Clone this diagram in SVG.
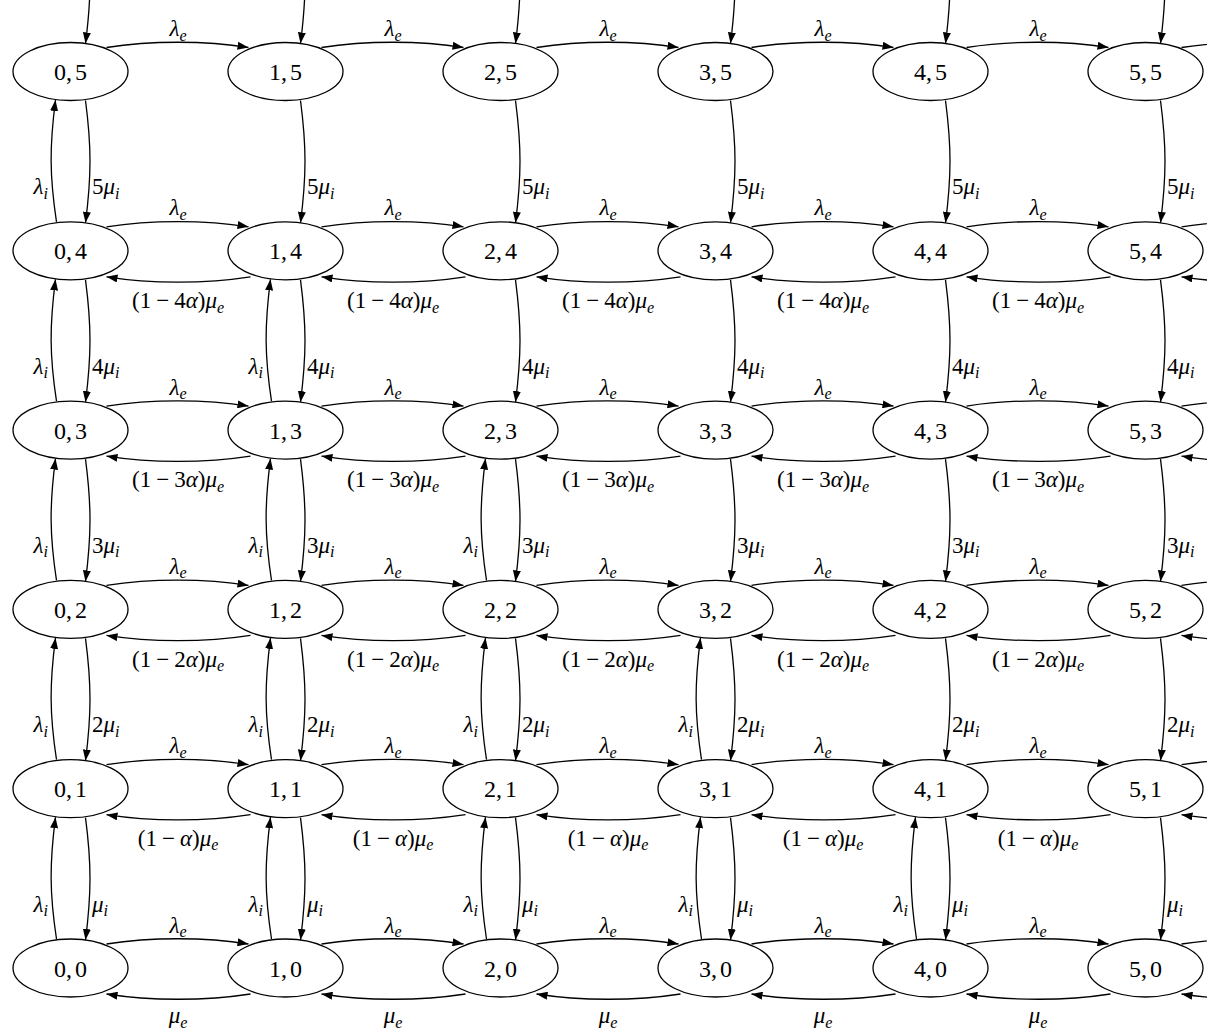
<svg xmlns="http://www.w3.org/2000/svg" width="1207" height="1031" viewBox="0 0 1207 1031">
<defs>
<marker id="ah" viewBox="0 0 11 8" refX="11" refY="4" markerWidth="11" markerHeight="8" orient="auto" markerUnits="userSpaceOnUse"><path d="M0,0 L11,4 L0,8 z" fill="#000"/></marker>
<style>
.nd ellipse{fill:#fff;stroke:#000;stroke-width:1.3}
.nl{font-family:"Liberation Serif","Times New Roman",serif;font-size:24px;text-anchor:middle;fill:#000}
.cn path{fill:none;stroke:#000;stroke-width:1.3;marker-end:url(#ah)}
.el{font-family:"Liberation Serif","Times New Roman",serif;font-size:23px;fill:#000}
.m{text-anchor:middle}
.e{text-anchor:end}
.i{font-style:italic}
.s{font-size:16px;font-style:italic}
</style>
</defs>
<rect width="1207" height="1031" fill="#fff"/>
<g id="connectors" class="cn">
<path transform="translate(70.5,71.5)" d="M36,-24 C80,-31 135,-31 178,-24"/>
<path transform="translate(285.5,71.5)" d="M36,-24 C80,-31 135,-31 178,-24"/>
<path transform="translate(500.5,71.5)" d="M36,-24 C80,-31 135,-31 178,-24"/>
<path transform="translate(715.5,71.5)" d="M36,-24 C80,-31 135,-31 178,-24"/>
<path transform="translate(930.5,71.5)" d="M36,-24 C80,-31 135,-31 178,-24"/>
<path transform="translate(1145.5,71.5)" d="M36,-24 C80,-31 135,-31 178,-24"/>
<path transform="translate(70.5,250.8)" d="M36,-24 C80,-31 135,-31 178,-24"/>
<path transform="translate(285.5,250.8)" d="M36,-24 C80,-31 135,-31 178,-24"/>
<path transform="translate(500.5,250.8)" d="M36,-24 C80,-31 135,-31 178,-24"/>
<path transform="translate(715.5,250.8)" d="M36,-24 C80,-31 135,-31 178,-24"/>
<path transform="translate(930.5,250.8)" d="M36,-24 C80,-31 135,-31 178,-24"/>
<path transform="translate(1145.5,250.8)" d="M36,-24 C80,-31 135,-31 178,-24"/>
<path transform="translate(70.5,430.1)" d="M36,-24 C80,-31 135,-31 178,-24"/>
<path transform="translate(285.5,430.1)" d="M36,-24 C80,-31 135,-31 178,-24"/>
<path transform="translate(500.5,430.1)" d="M36,-24 C80,-31 135,-31 178,-24"/>
<path transform="translate(715.5,430.1)" d="M36,-24 C80,-31 135,-31 178,-24"/>
<path transform="translate(930.5,430.1)" d="M36,-24 C80,-31 135,-31 178,-24"/>
<path transform="translate(1145.5,430.1)" d="M36,-24 C80,-31 135,-31 178,-24"/>
<path transform="translate(70.5,609.4)" d="M36,-24 C80,-31 135,-31 178,-24"/>
<path transform="translate(285.5,609.4)" d="M36,-24 C80,-31 135,-31 178,-24"/>
<path transform="translate(500.5,609.4)" d="M36,-24 C80,-31 135,-31 178,-24"/>
<path transform="translate(715.5,609.4)" d="M36,-24 C80,-31 135,-31 178,-24"/>
<path transform="translate(930.5,609.4)" d="M36,-24 C80,-31 135,-31 178,-24"/>
<path transform="translate(1145.5,609.4)" d="M36,-24 C80,-31 135,-31 178,-24"/>
<path transform="translate(70.5,788.7)" d="M36,-24 C80,-31 135,-31 178,-24"/>
<path transform="translate(285.5,788.7)" d="M36,-24 C80,-31 135,-31 178,-24"/>
<path transform="translate(500.5,788.7)" d="M36,-24 C80,-31 135,-31 178,-24"/>
<path transform="translate(715.5,788.7)" d="M36,-24 C80,-31 135,-31 178,-24"/>
<path transform="translate(930.5,788.7)" d="M36,-24 C80,-31 135,-31 178,-24"/>
<path transform="translate(1145.5,788.7)" d="M36,-24 C80,-31 135,-31 178,-24"/>
<path transform="translate(70.5,968)" d="M36,-24 C80,-31 135,-31 178,-24"/>
<path transform="translate(285.5,968)" d="M36,-24 C80,-31 135,-31 178,-24"/>
<path transform="translate(500.5,968)" d="M36,-24 C80,-31 135,-31 178,-24"/>
<path transform="translate(715.5,968)" d="M36,-24 C80,-31 135,-31 178,-24"/>
<path transform="translate(930.5,968)" d="M36,-24 C80,-31 135,-31 178,-24"/>
<path transform="translate(1145.5,968)" d="M36,-24 C80,-31 135,-31 178,-24"/>
<path transform="translate(70.5,250.8)" d="M180,26 C135,33 80,33 36,26"/>
<path transform="translate(285.5,250.8)" d="M180,26 C135,33 80,33 36,26"/>
<path transform="translate(500.5,250.8)" d="M180,26 C135,33 80,33 36,26"/>
<path transform="translate(715.5,250.8)" d="M180,26 C135,33 80,33 36,26"/>
<path transform="translate(930.5,250.8)" d="M180,26 C135,33 80,33 36,26"/>
<path transform="translate(1145.5,250.8)" d="M180,26 C135,33 80,33 36,26"/>
<path transform="translate(70.5,430.1)" d="M180,26 C135,33 80,33 36,26"/>
<path transform="translate(285.5,430.1)" d="M180,26 C135,33 80,33 36,26"/>
<path transform="translate(500.5,430.1)" d="M180,26 C135,33 80,33 36,26"/>
<path transform="translate(715.5,430.1)" d="M180,26 C135,33 80,33 36,26"/>
<path transform="translate(930.5,430.1)" d="M180,26 C135,33 80,33 36,26"/>
<path transform="translate(1145.5,430.1)" d="M180,26 C135,33 80,33 36,26"/>
<path transform="translate(70.5,609.4)" d="M180,26 C135,33 80,33 36,26"/>
<path transform="translate(285.5,609.4)" d="M180,26 C135,33 80,33 36,26"/>
<path transform="translate(500.5,609.4)" d="M180,26 C135,33 80,33 36,26"/>
<path transform="translate(715.5,609.4)" d="M180,26 C135,33 80,33 36,26"/>
<path transform="translate(930.5,609.4)" d="M180,26 C135,33 80,33 36,26"/>
<path transform="translate(1145.5,609.4)" d="M180,26 C135,33 80,33 36,26"/>
<path transform="translate(70.5,788.7)" d="M180,26 C135,33 80,33 36,26"/>
<path transform="translate(285.5,788.7)" d="M180,26 C135,33 80,33 36,26"/>
<path transform="translate(500.5,788.7)" d="M180,26 C135,33 80,33 36,26"/>
<path transform="translate(715.5,788.7)" d="M180,26 C135,33 80,33 36,26"/>
<path transform="translate(930.5,788.7)" d="M180,26 C135,33 80,33 36,26"/>
<path transform="translate(1145.5,788.7)" d="M180,26 C135,33 80,33 36,26"/>
<path transform="translate(70.5,968)" d="M180,26 C135,33 80,33 36,26"/>
<path transform="translate(285.5,968)" d="M180,26 C135,33 80,33 36,26"/>
<path transform="translate(500.5,968)" d="M180,26 C135,33 80,33 36,26"/>
<path transform="translate(715.5,968)" d="M180,26 C135,33 80,33 36,26"/>
<path transform="translate(930.5,968)" d="M180,26 C135,33 80,33 36,26"/>
<path transform="translate(1145.5,968)" d="M180,26 C135,33 80,33 36,26"/>
<path transform="translate(70.5,71.5)" d="M15,-150.3 C21,-104.3 21,-75 15,-28"/>
<path transform="translate(285.5,71.5)" d="M15,-150.3 C21,-104.3 21,-75 15,-28"/>
<path transform="translate(500.5,71.5)" d="M15,-150.3 C21,-104.3 21,-75 15,-28"/>
<path transform="translate(715.5,71.5)" d="M15,-150.3 C21,-104.3 21,-75 15,-28"/>
<path transform="translate(930.5,71.5)" d="M15,-150.3 C21,-104.3 21,-75 15,-28"/>
<path transform="translate(1145.5,71.5)" d="M15,-150.3 C21,-104.3 21,-75 15,-28"/>
<path transform="translate(70.5,250.8)" d="M15,-150.3 C21,-104.3 21,-75 15,-28"/>
<path transform="translate(285.5,250.8)" d="M15,-150.3 C21,-104.3 21,-75 15,-28"/>
<path transform="translate(500.5,250.8)" d="M15,-150.3 C21,-104.3 21,-75 15,-28"/>
<path transform="translate(715.5,250.8)" d="M15,-150.3 C21,-104.3 21,-75 15,-28"/>
<path transform="translate(930.5,250.8)" d="M15,-150.3 C21,-104.3 21,-75 15,-28"/>
<path transform="translate(1145.5,250.8)" d="M15,-150.3 C21,-104.3 21,-75 15,-28"/>
<path transform="translate(70.5,430.1)" d="M15,-150.3 C21,-104.3 21,-75 15,-28"/>
<path transform="translate(285.5,430.1)" d="M15,-150.3 C21,-104.3 21,-75 15,-28"/>
<path transform="translate(500.5,430.1)" d="M15,-150.3 C21,-104.3 21,-75 15,-28"/>
<path transform="translate(715.5,430.1)" d="M15,-150.3 C21,-104.3 21,-75 15,-28"/>
<path transform="translate(930.5,430.1)" d="M15,-150.3 C21,-104.3 21,-75 15,-28"/>
<path transform="translate(1145.5,430.1)" d="M15,-150.3 C21,-104.3 21,-75 15,-28"/>
<path transform="translate(70.5,609.4)" d="M15,-150.3 C21,-104.3 21,-75 15,-28"/>
<path transform="translate(285.5,609.4)" d="M15,-150.3 C21,-104.3 21,-75 15,-28"/>
<path transform="translate(500.5,609.4)" d="M15,-150.3 C21,-104.3 21,-75 15,-28"/>
<path transform="translate(715.5,609.4)" d="M15,-150.3 C21,-104.3 21,-75 15,-28"/>
<path transform="translate(930.5,609.4)" d="M15,-150.3 C21,-104.3 21,-75 15,-28"/>
<path transform="translate(1145.5,609.4)" d="M15,-150.3 C21,-104.3 21,-75 15,-28"/>
<path transform="translate(70.5,788.7)" d="M15,-150.3 C21,-104.3 21,-75 15,-28"/>
<path transform="translate(285.5,788.7)" d="M15,-150.3 C21,-104.3 21,-75 15,-28"/>
<path transform="translate(500.5,788.7)" d="M15,-150.3 C21,-104.3 21,-75 15,-28"/>
<path transform="translate(715.5,788.7)" d="M15,-150.3 C21,-104.3 21,-75 15,-28"/>
<path transform="translate(930.5,788.7)" d="M15,-150.3 C21,-104.3 21,-75 15,-28"/>
<path transform="translate(1145.5,788.7)" d="M15,-150.3 C21,-104.3 21,-75 15,-28"/>
<path transform="translate(70.5,968)" d="M15,-150.3 C21,-104.3 21,-75 15,-28"/>
<path transform="translate(285.5,968)" d="M15,-150.3 C21,-104.3 21,-75 15,-28"/>
<path transform="translate(500.5,968)" d="M15,-150.3 C21,-104.3 21,-75 15,-28"/>
<path transform="translate(715.5,968)" d="M15,-150.3 C21,-104.3 21,-75 15,-28"/>
<path transform="translate(930.5,968)" d="M15,-150.3 C21,-104.3 21,-75 15,-28"/>
<path transform="translate(1145.5,968)" d="M15,-150.3 C21,-104.3 21,-75 15,-28"/>
<path transform="translate(70.5,250.8)" d="M-14,-29 C-21,-75 -21,-104.3 -15,-150.8"/>
<path transform="translate(70.5,430.1)" d="M-14,-29 C-21,-75 -21,-104.3 -15,-150.8"/>
<path transform="translate(285.5,430.1)" d="M-14,-29 C-21,-75 -21,-104.3 -15,-150.8"/>
<path transform="translate(70.5,609.4)" d="M-14,-29 C-21,-75 -21,-104.3 -15,-150.8"/>
<path transform="translate(285.5,609.4)" d="M-14,-29 C-21,-75 -21,-104.3 -15,-150.8"/>
<path transform="translate(500.5,609.4)" d="M-14,-29 C-21,-75 -21,-104.3 -15,-150.8"/>
<path transform="translate(70.5,788.7)" d="M-14,-29 C-21,-75 -21,-104.3 -15,-150.8"/>
<path transform="translate(285.5,788.7)" d="M-14,-29 C-21,-75 -21,-104.3 -15,-150.8"/>
<path transform="translate(500.5,788.7)" d="M-14,-29 C-21,-75 -21,-104.3 -15,-150.8"/>
<path transform="translate(715.5,788.7)" d="M-14,-29 C-21,-75 -21,-104.3 -15,-150.8"/>
<path transform="translate(70.5,968)" d="M-14,-29 C-21,-75 -21,-104.3 -15,-150.8"/>
<path transform="translate(285.5,968)" d="M-14,-29 C-21,-75 -21,-104.3 -15,-150.8"/>
<path transform="translate(500.5,968)" d="M-14,-29 C-21,-75 -21,-104.3 -15,-150.8"/>
<path transform="translate(715.5,968)" d="M-14,-29 C-21,-75 -21,-104.3 -15,-150.8"/>
<path transform="translate(930.5,968)" d="M-14,-29 C-21,-75 -21,-104.3 -15,-150.8"/>
</g>
<g id="edge-labels">
<text class="el m" x="178" y="36"><tspan class="i">λ</tspan><tspan class="s" dy="4.5">e</tspan></text>
<text class="el m" x="393" y="36"><tspan class="i">λ</tspan><tspan class="s" dy="4.5">e</tspan></text>
<text class="el m" x="608" y="36"><tspan class="i">λ</tspan><tspan class="s" dy="4.5">e</tspan></text>
<text class="el m" x="823" y="36"><tspan class="i">λ</tspan><tspan class="s" dy="4.5">e</tspan></text>
<text class="el m" x="1038" y="36"><tspan class="i">λ</tspan><tspan class="s" dy="4.5">e</tspan></text>
<text class="el m" x="178" y="215.3"><tspan class="i">λ</tspan><tspan class="s" dy="4.5">e</tspan></text>
<text class="el m" x="393" y="215.3"><tspan class="i">λ</tspan><tspan class="s" dy="4.5">e</tspan></text>
<text class="el m" x="608" y="215.3"><tspan class="i">λ</tspan><tspan class="s" dy="4.5">e</tspan></text>
<text class="el m" x="823" y="215.3"><tspan class="i">λ</tspan><tspan class="s" dy="4.5">e</tspan></text>
<text class="el m" x="1038" y="215.3"><tspan class="i">λ</tspan><tspan class="s" dy="4.5">e</tspan></text>
<text class="el m" x="178" y="394.6"><tspan class="i">λ</tspan><tspan class="s" dy="4.5">e</tspan></text>
<text class="el m" x="393" y="394.6"><tspan class="i">λ</tspan><tspan class="s" dy="4.5">e</tspan></text>
<text class="el m" x="608" y="394.6"><tspan class="i">λ</tspan><tspan class="s" dy="4.5">e</tspan></text>
<text class="el m" x="823" y="394.6"><tspan class="i">λ</tspan><tspan class="s" dy="4.5">e</tspan></text>
<text class="el m" x="1038" y="394.6"><tspan class="i">λ</tspan><tspan class="s" dy="4.5">e</tspan></text>
<text class="el m" x="178" y="573.9"><tspan class="i">λ</tspan><tspan class="s" dy="4.5">e</tspan></text>
<text class="el m" x="393" y="573.9"><tspan class="i">λ</tspan><tspan class="s" dy="4.5">e</tspan></text>
<text class="el m" x="608" y="573.9"><tspan class="i">λ</tspan><tspan class="s" dy="4.5">e</tspan></text>
<text class="el m" x="823" y="573.9"><tspan class="i">λ</tspan><tspan class="s" dy="4.5">e</tspan></text>
<text class="el m" x="1038" y="573.9"><tspan class="i">λ</tspan><tspan class="s" dy="4.5">e</tspan></text>
<text class="el m" x="178" y="753.2"><tspan class="i">λ</tspan><tspan class="s" dy="4.5">e</tspan></text>
<text class="el m" x="393" y="753.2"><tspan class="i">λ</tspan><tspan class="s" dy="4.5">e</tspan></text>
<text class="el m" x="608" y="753.2"><tspan class="i">λ</tspan><tspan class="s" dy="4.5">e</tspan></text>
<text class="el m" x="823" y="753.2"><tspan class="i">λ</tspan><tspan class="s" dy="4.5">e</tspan></text>
<text class="el m" x="1038" y="753.2"><tspan class="i">λ</tspan><tspan class="s" dy="4.5">e</tspan></text>
<text class="el m" x="178" y="932.5"><tspan class="i">λ</tspan><tspan class="s" dy="4.5">e</tspan></text>
<text class="el m" x="393" y="932.5"><tspan class="i">λ</tspan><tspan class="s" dy="4.5">e</tspan></text>
<text class="el m" x="608" y="932.5"><tspan class="i">λ</tspan><tspan class="s" dy="4.5">e</tspan></text>
<text class="el m" x="823" y="932.5"><tspan class="i">λ</tspan><tspan class="s" dy="4.5">e</tspan></text>
<text class="el m" x="1038" y="932.5"><tspan class="i">λ</tspan><tspan class="s" dy="4.5">e</tspan></text>
<text class="el m" x="178" y="308">(1<tspan dx="5">−</tspan><tspan dx="5">4</tspan><tspan class="i">α</tspan>)<tspan class="i">μ</tspan><tspan class="s" dy="4.5">e</tspan></text>
<text class="el m" x="393" y="308">(1<tspan dx="5">−</tspan><tspan dx="5">4</tspan><tspan class="i">α</tspan>)<tspan class="i">μ</tspan><tspan class="s" dy="4.5">e</tspan></text>
<text class="el m" x="608" y="308">(1<tspan dx="5">−</tspan><tspan dx="5">4</tspan><tspan class="i">α</tspan>)<tspan class="i">μ</tspan><tspan class="s" dy="4.5">e</tspan></text>
<text class="el m" x="823" y="308">(1<tspan dx="5">−</tspan><tspan dx="5">4</tspan><tspan class="i">α</tspan>)<tspan class="i">μ</tspan><tspan class="s" dy="4.5">e</tspan></text>
<text class="el m" x="1038" y="308">(1<tspan dx="5">−</tspan><tspan dx="5">4</tspan><tspan class="i">α</tspan>)<tspan class="i">μ</tspan><tspan class="s" dy="4.5">e</tspan></text>
<text class="el m" x="178" y="487.3">(1<tspan dx="5">−</tspan><tspan dx="5">3</tspan><tspan class="i">α</tspan>)<tspan class="i">μ</tspan><tspan class="s" dy="4.5">e</tspan></text>
<text class="el m" x="393" y="487.3">(1<tspan dx="5">−</tspan><tspan dx="5">3</tspan><tspan class="i">α</tspan>)<tspan class="i">μ</tspan><tspan class="s" dy="4.5">e</tspan></text>
<text class="el m" x="608" y="487.3">(1<tspan dx="5">−</tspan><tspan dx="5">3</tspan><tspan class="i">α</tspan>)<tspan class="i">μ</tspan><tspan class="s" dy="4.5">e</tspan></text>
<text class="el m" x="823" y="487.3">(1<tspan dx="5">−</tspan><tspan dx="5">3</tspan><tspan class="i">α</tspan>)<tspan class="i">μ</tspan><tspan class="s" dy="4.5">e</tspan></text>
<text class="el m" x="1038" y="487.3">(1<tspan dx="5">−</tspan><tspan dx="5">3</tspan><tspan class="i">α</tspan>)<tspan class="i">μ</tspan><tspan class="s" dy="4.5">e</tspan></text>
<text class="el m" x="178" y="666.6">(1<tspan dx="5">−</tspan><tspan dx="5">2</tspan><tspan class="i">α</tspan>)<tspan class="i">μ</tspan><tspan class="s" dy="4.5">e</tspan></text>
<text class="el m" x="393" y="666.6">(1<tspan dx="5">−</tspan><tspan dx="5">2</tspan><tspan class="i">α</tspan>)<tspan class="i">μ</tspan><tspan class="s" dy="4.5">e</tspan></text>
<text class="el m" x="608" y="666.6">(1<tspan dx="5">−</tspan><tspan dx="5">2</tspan><tspan class="i">α</tspan>)<tspan class="i">μ</tspan><tspan class="s" dy="4.5">e</tspan></text>
<text class="el m" x="823" y="666.6">(1<tspan dx="5">−</tspan><tspan dx="5">2</tspan><tspan class="i">α</tspan>)<tspan class="i">μ</tspan><tspan class="s" dy="4.5">e</tspan></text>
<text class="el m" x="1038" y="666.6">(1<tspan dx="5">−</tspan><tspan dx="5">2</tspan><tspan class="i">α</tspan>)<tspan class="i">μ</tspan><tspan class="s" dy="4.5">e</tspan></text>
<text class="el m" x="178" y="845.9">(1<tspan dx="5">−</tspan><tspan dx="5" class="i">α</tspan>)<tspan class="i">μ</tspan><tspan class="s" dy="4.5">e</tspan></text>
<text class="el m" x="393" y="845.9">(1<tspan dx="5">−</tspan><tspan dx="5" class="i">α</tspan>)<tspan class="i">μ</tspan><tspan class="s" dy="4.5">e</tspan></text>
<text class="el m" x="608" y="845.9">(1<tspan dx="5">−</tspan><tspan dx="5" class="i">α</tspan>)<tspan class="i">μ</tspan><tspan class="s" dy="4.5">e</tspan></text>
<text class="el m" x="823" y="845.9">(1<tspan dx="5">−</tspan><tspan dx="5" class="i">α</tspan>)<tspan class="i">μ</tspan><tspan class="s" dy="4.5">e</tspan></text>
<text class="el m" x="1038" y="845.9">(1<tspan dx="5">−</tspan><tspan dx="5" class="i">α</tspan>)<tspan class="i">μ</tspan><tspan class="s" dy="4.5">e</tspan></text>
<text class="el m" x="178" y="1023"><tspan class="i">μ</tspan><tspan class="s" dy="4.5">e</tspan></text>
<text class="el m" x="393" y="1023"><tspan class="i">μ</tspan><tspan class="s" dy="4.5">e</tspan></text>
<text class="el m" x="608" y="1023"><tspan class="i">μ</tspan><tspan class="s" dy="4.5">e</tspan></text>
<text class="el m" x="823" y="1023"><tspan class="i">μ</tspan><tspan class="s" dy="4.5">e</tspan></text>
<text class="el m" x="1038" y="1023"><tspan class="i">μ</tspan><tspan class="s" dy="4.5">e</tspan></text>
<text class="el" x="92" y="194.3">5<tspan class="i">μ</tspan><tspan class="s" dy="4.5">i</tspan></text>
<text class="el" x="307" y="194.3">5<tspan class="i">μ</tspan><tspan class="s" dy="4.5">i</tspan></text>
<text class="el" x="522" y="194.3">5<tspan class="i">μ</tspan><tspan class="s" dy="4.5">i</tspan></text>
<text class="el" x="737" y="194.3">5<tspan class="i">μ</tspan><tspan class="s" dy="4.5">i</tspan></text>
<text class="el" x="952" y="194.3">5<tspan class="i">μ</tspan><tspan class="s" dy="4.5">i</tspan></text>
<text class="el" x="1167" y="194.3">5<tspan class="i">μ</tspan><tspan class="s" dy="4.5">i</tspan></text>
<text class="el" x="92" y="373.6">4<tspan class="i">μ</tspan><tspan class="s" dy="4.5">i</tspan></text>
<text class="el" x="307" y="373.6">4<tspan class="i">μ</tspan><tspan class="s" dy="4.5">i</tspan></text>
<text class="el" x="522" y="373.6">4<tspan class="i">μ</tspan><tspan class="s" dy="4.5">i</tspan></text>
<text class="el" x="737" y="373.6">4<tspan class="i">μ</tspan><tspan class="s" dy="4.5">i</tspan></text>
<text class="el" x="952" y="373.6">4<tspan class="i">μ</tspan><tspan class="s" dy="4.5">i</tspan></text>
<text class="el" x="1167" y="373.6">4<tspan class="i">μ</tspan><tspan class="s" dy="4.5">i</tspan></text>
<text class="el" x="92" y="552.9">3<tspan class="i">μ</tspan><tspan class="s" dy="4.5">i</tspan></text>
<text class="el" x="307" y="552.9">3<tspan class="i">μ</tspan><tspan class="s" dy="4.5">i</tspan></text>
<text class="el" x="522" y="552.9">3<tspan class="i">μ</tspan><tspan class="s" dy="4.5">i</tspan></text>
<text class="el" x="737" y="552.9">3<tspan class="i">μ</tspan><tspan class="s" dy="4.5">i</tspan></text>
<text class="el" x="952" y="552.9">3<tspan class="i">μ</tspan><tspan class="s" dy="4.5">i</tspan></text>
<text class="el" x="1167" y="552.9">3<tspan class="i">μ</tspan><tspan class="s" dy="4.5">i</tspan></text>
<text class="el" x="92" y="732.2">2<tspan class="i">μ</tspan><tspan class="s" dy="4.5">i</tspan></text>
<text class="el" x="307" y="732.2">2<tspan class="i">μ</tspan><tspan class="s" dy="4.5">i</tspan></text>
<text class="el" x="522" y="732.2">2<tspan class="i">μ</tspan><tspan class="s" dy="4.5">i</tspan></text>
<text class="el" x="737" y="732.2">2<tspan class="i">μ</tspan><tspan class="s" dy="4.5">i</tspan></text>
<text class="el" x="952" y="732.2">2<tspan class="i">μ</tspan><tspan class="s" dy="4.5">i</tspan></text>
<text class="el" x="1167" y="732.2">2<tspan class="i">μ</tspan><tspan class="s" dy="4.5">i</tspan></text>
<text class="el" x="92" y="911.5"><tspan class="i">μ</tspan><tspan class="s" dy="4.5">i</tspan></text>
<text class="el" x="307" y="911.5"><tspan class="i">μ</tspan><tspan class="s" dy="4.5">i</tspan></text>
<text class="el" x="522" y="911.5"><tspan class="i">μ</tspan><tspan class="s" dy="4.5">i</tspan></text>
<text class="el" x="737" y="911.5"><tspan class="i">μ</tspan><tspan class="s" dy="4.5">i</tspan></text>
<text class="el" x="952" y="911.5"><tspan class="i">μ</tspan><tspan class="s" dy="4.5">i</tspan></text>
<text class="el" x="1167" y="911.5"><tspan class="i">μ</tspan><tspan class="s" dy="4.5">i</tspan></text>
<text class="el e" x="48" y="194.3"><tspan class="i">λ</tspan><tspan class="s" dy="4.5">i</tspan></text>
<text class="el e" x="48" y="373.6"><tspan class="i">λ</tspan><tspan class="s" dy="4.5">i</tspan></text>
<text class="el e" x="263" y="373.6"><tspan class="i">λ</tspan><tspan class="s" dy="4.5">i</tspan></text>
<text class="el e" x="48" y="552.9"><tspan class="i">λ</tspan><tspan class="s" dy="4.5">i</tspan></text>
<text class="el e" x="263" y="552.9"><tspan class="i">λ</tspan><tspan class="s" dy="4.5">i</tspan></text>
<text class="el e" x="478" y="552.9"><tspan class="i">λ</tspan><tspan class="s" dy="4.5">i</tspan></text>
<text class="el e" x="48" y="732.2"><tspan class="i">λ</tspan><tspan class="s" dy="4.5">i</tspan></text>
<text class="el e" x="263" y="732.2"><tspan class="i">λ</tspan><tspan class="s" dy="4.5">i</tspan></text>
<text class="el e" x="478" y="732.2"><tspan class="i">λ</tspan><tspan class="s" dy="4.5">i</tspan></text>
<text class="el e" x="693" y="732.2"><tspan class="i">λ</tspan><tspan class="s" dy="4.5">i</tspan></text>
<text class="el e" x="48" y="911.5"><tspan class="i">λ</tspan><tspan class="s" dy="4.5">i</tspan></text>
<text class="el e" x="263" y="911.5"><tspan class="i">λ</tspan><tspan class="s" dy="4.5">i</tspan></text>
<text class="el e" x="478" y="911.5"><tspan class="i">λ</tspan><tspan class="s" dy="4.5">i</tspan></text>
<text class="el e" x="693" y="911.5"><tspan class="i">λ</tspan><tspan class="s" dy="4.5">i</tspan></text>
<text class="el e" x="908" y="911.5"><tspan class="i">λ</tspan><tspan class="s" dy="4.5">i</tspan></text>
</g>
<g id="nodes">
<g id="n0_5" class="nd" transform="translate(70.5,71.5)"><ellipse rx="57.5" ry="29"/><text class="nl" y="8.5">0,<tspan dx="3">5</tspan></text></g>
<g id="n1_5" class="nd" transform="translate(285.5,71.5)"><ellipse rx="57.5" ry="29"/><text class="nl" y="8.5">1,<tspan dx="3">5</tspan></text></g>
<g id="n2_5" class="nd" transform="translate(500.5,71.5)"><ellipse rx="57.5" ry="29"/><text class="nl" y="8.5">2,<tspan dx="3">5</tspan></text></g>
<g id="n3_5" class="nd" transform="translate(715.5,71.5)"><ellipse rx="57.5" ry="29"/><text class="nl" y="8.5">3,<tspan dx="3">5</tspan></text></g>
<g id="n4_5" class="nd" transform="translate(930.5,71.5)"><ellipse rx="57.5" ry="29"/><text class="nl" y="8.5">4,<tspan dx="3">5</tspan></text></g>
<g id="n5_5" class="nd" transform="translate(1145.5,71.5)"><ellipse rx="57.5" ry="29"/><text class="nl" y="8.5">5,<tspan dx="3">5</tspan></text></g>
<g id="n0_4" class="nd" transform="translate(70.5,250.8)"><ellipse rx="57.5" ry="29"/><text class="nl" y="8.5">0,<tspan dx="3">4</tspan></text></g>
<g id="n1_4" class="nd" transform="translate(285.5,250.8)"><ellipse rx="57.5" ry="29"/><text class="nl" y="8.5">1,<tspan dx="3">4</tspan></text></g>
<g id="n2_4" class="nd" transform="translate(500.5,250.8)"><ellipse rx="57.5" ry="29"/><text class="nl" y="8.5">2,<tspan dx="3">4</tspan></text></g>
<g id="n3_4" class="nd" transform="translate(715.5,250.8)"><ellipse rx="57.5" ry="29"/><text class="nl" y="8.5">3,<tspan dx="3">4</tspan></text></g>
<g id="n4_4" class="nd" transform="translate(930.5,250.8)"><ellipse rx="57.5" ry="29"/><text class="nl" y="8.5">4,<tspan dx="3">4</tspan></text></g>
<g id="n5_4" class="nd" transform="translate(1145.5,250.8)"><ellipse rx="57.5" ry="29"/><text class="nl" y="8.5">5,<tspan dx="3">4</tspan></text></g>
<g id="n0_3" class="nd" transform="translate(70.5,430.1)"><ellipse rx="57.5" ry="29"/><text class="nl" y="8.5">0,<tspan dx="3">3</tspan></text></g>
<g id="n1_3" class="nd" transform="translate(285.5,430.1)"><ellipse rx="57.5" ry="29"/><text class="nl" y="8.5">1,<tspan dx="3">3</tspan></text></g>
<g id="n2_3" class="nd" transform="translate(500.5,430.1)"><ellipse rx="57.5" ry="29"/><text class="nl" y="8.5">2,<tspan dx="3">3</tspan></text></g>
<g id="n3_3" class="nd" transform="translate(715.5,430.1)"><ellipse rx="57.5" ry="29"/><text class="nl" y="8.5">3,<tspan dx="3">3</tspan></text></g>
<g id="n4_3" class="nd" transform="translate(930.5,430.1)"><ellipse rx="57.5" ry="29"/><text class="nl" y="8.5">4,<tspan dx="3">3</tspan></text></g>
<g id="n5_3" class="nd" transform="translate(1145.5,430.1)"><ellipse rx="57.5" ry="29"/><text class="nl" y="8.5">5,<tspan dx="3">3</tspan></text></g>
<g id="n0_2" class="nd" transform="translate(70.5,609.4)"><ellipse rx="57.5" ry="29"/><text class="nl" y="8.5">0,<tspan dx="3">2</tspan></text></g>
<g id="n1_2" class="nd" transform="translate(285.5,609.4)"><ellipse rx="57.5" ry="29"/><text class="nl" y="8.5">1,<tspan dx="3">2</tspan></text></g>
<g id="n2_2" class="nd" transform="translate(500.5,609.4)"><ellipse rx="57.5" ry="29"/><text class="nl" y="8.5">2,<tspan dx="3">2</tspan></text></g>
<g id="n3_2" class="nd" transform="translate(715.5,609.4)"><ellipse rx="57.5" ry="29"/><text class="nl" y="8.5">3,<tspan dx="3">2</tspan></text></g>
<g id="n4_2" class="nd" transform="translate(930.5,609.4)"><ellipse rx="57.5" ry="29"/><text class="nl" y="8.5">4,<tspan dx="3">2</tspan></text></g>
<g id="n5_2" class="nd" transform="translate(1145.5,609.4)"><ellipse rx="57.5" ry="29"/><text class="nl" y="8.5">5,<tspan dx="3">2</tspan></text></g>
<g id="n0_1" class="nd" transform="translate(70.5,788.7)"><ellipse rx="57.5" ry="29"/><text class="nl" y="8.5">0,<tspan dx="3">1</tspan></text></g>
<g id="n1_1" class="nd" transform="translate(285.5,788.7)"><ellipse rx="57.5" ry="29"/><text class="nl" y="8.5">1,<tspan dx="3">1</tspan></text></g>
<g id="n2_1" class="nd" transform="translate(500.5,788.7)"><ellipse rx="57.5" ry="29"/><text class="nl" y="8.5">2,<tspan dx="3">1</tspan></text></g>
<g id="n3_1" class="nd" transform="translate(715.5,788.7)"><ellipse rx="57.5" ry="29"/><text class="nl" y="8.5">3,<tspan dx="3">1</tspan></text></g>
<g id="n4_1" class="nd" transform="translate(930.5,788.7)"><ellipse rx="57.5" ry="29"/><text class="nl" y="8.5">4,<tspan dx="3">1</tspan></text></g>
<g id="n5_1" class="nd" transform="translate(1145.5,788.7)"><ellipse rx="57.5" ry="29"/><text class="nl" y="8.5">5,<tspan dx="3">1</tspan></text></g>
<g id="n0_0" class="nd" transform="translate(70.5,968)"><ellipse rx="57.5" ry="29"/><text class="nl" y="8.5">0,<tspan dx="3">0</tspan></text></g>
<g id="n1_0" class="nd" transform="translate(285.5,968)"><ellipse rx="57.5" ry="29"/><text class="nl" y="8.5">1,<tspan dx="3">0</tspan></text></g>
<g id="n2_0" class="nd" transform="translate(500.5,968)"><ellipse rx="57.5" ry="29"/><text class="nl" y="8.5">2,<tspan dx="3">0</tspan></text></g>
<g id="n3_0" class="nd" transform="translate(715.5,968)"><ellipse rx="57.5" ry="29"/><text class="nl" y="8.5">3,<tspan dx="3">0</tspan></text></g>
<g id="n4_0" class="nd" transform="translate(930.5,968)"><ellipse rx="57.5" ry="29"/><text class="nl" y="8.5">4,<tspan dx="3">0</tspan></text></g>
<g id="n5_0" class="nd" transform="translate(1145.5,968)"><ellipse rx="57.5" ry="29"/><text class="nl" y="8.5">5,<tspan dx="3">0</tspan></text></g>
</g>
</svg>
